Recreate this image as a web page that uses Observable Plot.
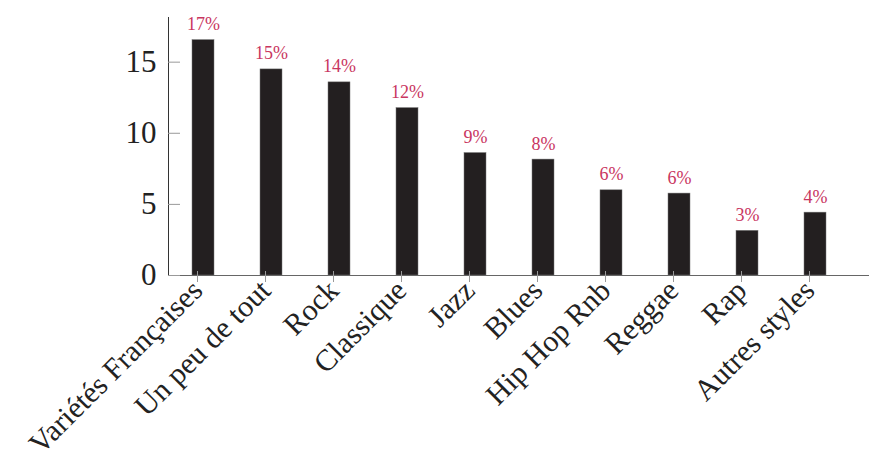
<!DOCTYPE html>
<html><head><meta charset="utf-8">
<script src="https://cdn.jsdelivr.net/npm/d3@7"></script>
<script src="https://cdn.jsdelivr.net/npm/@observablehq/plot@0.6"></script>
<style>html,body{margin:0;padding:0;background:#fff} svg{display:block}</style>
</head><body><div id="chart"></div>
<script>
const categories = ["Variétés Françaises","Un peu de tout","Rock","Classique","Jazz","Blues","Hip Hop Rnb","Reggae","Rap","Autres styles"];
const values = [16.55,14.49,13.58,11.77,8.61,8.15,5.99,5.76,3.14,4.42];
const percentLabels = ["17%","15%","14%","12%","9%","8%","6%","6%","3%","4%"];
const yTicks = [0,5,10,15];
const data = categories.map((c,i)=>({category:c, value:values[i], label:percentLabels[i]}));
const chart = Plot.plot({
  width: 869, height: 459,
  marginLeft: 168, marginRight: 0, marginTop: 17, marginBottom: 184,
  style: {fontFamily: "'Liberation Serif', serif", background: "#fff", color: "#222"},
  x: {domain: categories, range: [168, 849.5], paddingInner: 0.677, paddingOuter: 0.342, label: null},
  y: {domain: [0, 18.14], label: null},
  marks: [
    Plot.barY(data, {x:"category", y:"value", fill:"#231f20", stroke:"#777", strokeWidth:0.5}),
    Plot.text(data, {x:"category", y:"value", text:"label", dy:-10, lineAnchor:"bottom", fill:"#c9365f", fontSize:18}),
    Plot.ruleY([0], {stroke:"#666", strokeWidth:1.2}),
    Plot.frame({anchor:"left", stroke:"#333"}),
    Plot.axisY(yTicks, {tickSize:12, dx:12, text:null, stroke:"#999"}),
    Plot.axisY(yTicks, {tickSize:0, tickPadding:12, fontSize:31, fill:"#222"}),
    Plot.axisX({tickSize:11, stroke:"#999", fill:"#222", tickRotate:-45, fontSize:30, tickPadding:3, dx:-6, dy:-4})
  ]
});
document.getElementById("chart").append(chart);
</script>
</body></html>
